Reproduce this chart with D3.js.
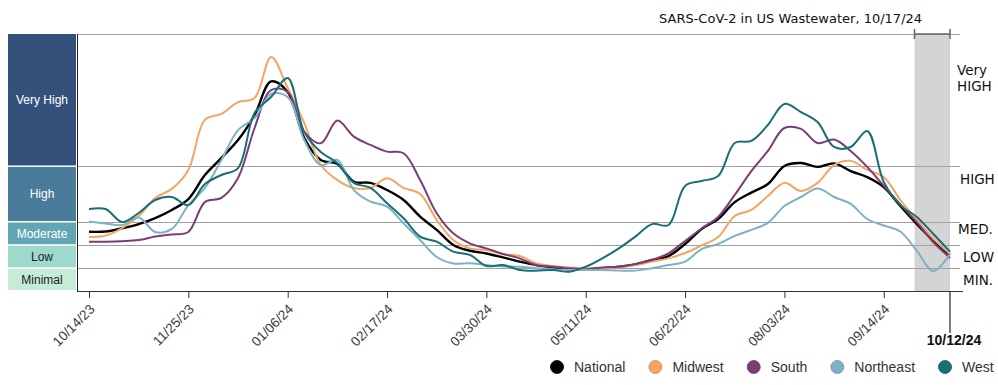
<!DOCTYPE html>
<html>
<head>
<meta charset="utf-8">
<script src="https://cdn.jsdelivr.net/npm/d3@7"></script>
<style>
  body { margin: 0; background: #fff; }
  svg { display: block; }
</style>
</head>
<body>
<svg width="998" height="385"></svg>
<script>
// Weekly samples, Saturdays 10/14/23 .. 10/12/24
const weeks = d3.timeSaturday.range(new Date(2023, 9, 14), new Date(2024, 9, 13));

// Series values (viral activity units)
const national  = [2.56,2.57,2.71,2.89,3.15,3.50,3.97,5.01,5.75,6.52,7.60,9.05,8.60,6.61,5.66,5.49,4.72,4.67,4.36,3.93,3.21,2.64,1.99,1.74,1.62,1.45,1.27,1.12,1.02,0.94,0.94,0.98,1.05,1.15,1.34,1.51,2.03,2.68,3.11,3.84,4.25,4.62,5.40,5.53,5.36,5.51,5.18,4.92,4.49,3.67,2.89,2.18,1.56];
const midwest   = [2.33,2.40,2.72,3.24,4.02,4.41,5.23,7.39,7.65,8.16,8.34,10.11,8.77,7.26,5.44,4.79,4.45,4.45,4.87,4.45,4.19,3.07,2.20,1.84,1.77,1.60,1.51,1.20,1.08,1.02,0.98,0.98,1.02,1.12,1.27,1.41,1.64,1.97,2.33,3.24,3.50,4.10,4.67,4.32,4.67,5.44,5.62,5.23,4.92,3.93,3.07,2.25,1.60];
const south     = [2.13,2.13,2.15,2.20,2.35,2.44,2.55,3.84,4.02,4.88,7.04,8.68,8.60,6.87,6.38,7.36,6.67,6.31,6.02,5.95,4.79,3.36,2.49,2.06,1.84,1.60,1.41,1.12,1.05,0.98,0.94,1.02,1.05,1.17,1.34,1.63,2.16,2.70,3.20,4.15,5.18,6.05,7.04,7.00,6.39,6.54,6.05,5.36,4.54,3.74,2.96,2.10,1.43];
const northeast = [3.00,2.92,2.85,3.17,2.55,2.68,3.71,4.45,5.66,6.95,7.47,8.51,8.38,6.52,5.44,5.66,4.36,3.86,3.64,2.92,2.20,1.47,1.19,1.20,1.12,1.06,1.05,0.98,0.94,0.91,0.91,0.91,0.88,0.88,0.98,1.12,1.27,1.81,2.03,2.38,2.64,2.94,3.67,4.06,4.43,4.06,3.76,3.11,2.83,2.57,1.73,0.86,1.60];
const west      = [3.54,3.54,2.98,3.37,3.93,4.06,3.71,4.62,5.01,5.31,7.69,8.38,9.20,6.87,6.00,5.52,4.67,4.45,3.79,3.14,2.35,2.13,1.70,1.56,1.08,1.12,0.91,0.88,0.91,0.83,1.05,1.41,1.84,2.35,2.89,2.85,4.54,4.75,4.97,6.39,6.48,7.17,8.08,7.73,7.30,6.22,6.22,6.91,4.71,3.71,3.20,2.46,1.70];

const seriesNames  = ["National", "Midwest", "South", "Northeast", "West"];
const seriesValues = [national, midwest, south, northeast, west];
const seriesColors = ["#000000", "#f6a461", "#7c3d72", "#7fb1c6", "#186f74"];

// Activity levels (upper bound of each band)
const levelNames  = ["Minimal", "Low", "Moderate", "High", "Very High"];
const levelTops   = [1, 2, 3, 5.4, 11.1];
const levelColors = ["#c6ecd8", "#9fd8cc", "#62a6b4", "#4b7b9a", "#33517b"];
const levelText   = ["#222", "#222", "#fff", "#fff", "#fff"];
const rightLabels = [["MIN."], ["LOW"], ["MED."], ["HIGH"], ["Very", "HIGH"]];

// Tick labels
const tickDates = ["10/14/23","11/25/23","01/06/24","02/17/24","03/30/24","05/11/24","06/22/24","08/03/24","09/14/24"];
const lastDate = "10/12/24";
const bandDates = ["09/27/24", "10/12/24"]; // incomplete-data window
const title = "SARS-CoV-2 in US Wastewater, 10/17/24";

const parse = d3.timeParse("%m/%d/%y");

const svg = d3.select("svg");
const plotLeft = 77, plotRight = 960, plotTop = 34, plotBottom = 291;

const x = d3.scaleTime()
    .domain([weeks[0], weeks[weeks.length - 1]])
    .range([89, 950]);
const y = d3.scaleLinear()
    .domain([0, 11.1])
    .range([plotBottom, plotTop]);

// Gray band for incomplete weeks
const bx0 = x(parse(bandDates[0])), bx1 = x(parse(bandDates[1]));
svg.append("rect")
    .attr("x", bx0)
    .attr("y", plotTop)
    .attr("width", bx1 - bx0)
    .attr("height", plotBottom - plotTop)
    .attr("fill", "#d4d4d4");

// Gridlines at level bounds
svg.append("g")
    .selectAll("line")
    .data(levelTops)
    .join("line")
        .attr("x1", plotLeft)
        .attr("x2", plotRight)
        .attr("y1", d => Math.round(y(d)) + 0.5)
        .attr("y2", d => Math.round(y(d)) + 0.5)
        .attr("stroke", "#a0a0a0")
        .attr("stroke-width", 1);

// Bracket above the band
svg.append("path")
    .attr("d", `M${bx0},29V39M${bx0},34H${bx1}M${bx1},29V39`)
    .attr("fill", "none")
    .attr("stroke", "#666")
    .attr("stroke-width", 1.5);

// Left level blocks
const blocks = svg.append("g");
levelTops.forEach((t, i) => {
    const lo = i === 0 ? 0 : levelTops[i - 1];
    const y0 = y(t) + (i === levelTops.length - 1 ? 0 : 1);
    const y1 = y(lo) - (i === 0 ? 1 : 0.5);
    blocks.append("rect")
        .attr("x", 8)
        .attr("y", y0)
        .attr("width", 68)
        .attr("height", y1 - y0)
        .attr("fill", levelColors[i]);
    blocks.append("text")
        .attr("x", 42)
        .attr("y", (y0 + y1) / 2)
        .attr("dy", "0.36em")
        .attr("text-anchor", "middle")
        .style("font-family", "Liberation Sans, Arial, sans-serif")
        .style("font-size", "12px")
        .attr("fill", levelText[i])
        .text(levelNames[i]);
});

// Right level labels
const rightPos = [[963, 285], [963, 262], [958, 234], [960, 184], [957, 75]];
rightLabels.forEach((lines, i) => {
    lines.forEach((s, j) => {
        svg.append("text")
            .attr("x", rightPos[i][0])
            .attr("y", rightPos[i][1] + j * 16)
            .style("font-family", "DejaVu Sans, sans-serif")
            .style("font-size", "13.5px")
            .attr("fill", "#111")
            .text(s);
    });
});

// Axes
svg.append("line")
    .attr("x1", plotLeft + 0.5).attr("x2", plotLeft + 0.5)
    .attr("y1", plotTop).attr("y2", plotBottom)
    .attr("stroke", "#222");
svg.append("line")
    .attr("x1", plotLeft).attr("x2", 963)
    .attr("y1", plotBottom + 0.5).attr("y2", plotBottom + 0.5)
    .attr("stroke", "#333");

const xAxis = svg.append("g")
    .attr("transform", `translate(0,${plotBottom})`)
    .call(d3.axisBottom(x)
        .tickValues(tickDates.map(parse))
        .tickFormat(d3.timeFormat("%m/%d/%y"))
        .tickSize(7)
        .tickSizeOuter(0));
xAxis.select(".domain").remove();
xAxis.selectAll(".tick line").attr("stroke", "#333");
xAxis.selectAll(".tick text")
    .attr("y", 0)
    .attr("dy", 0)
    .attr("transform", "translate(6,19) rotate(-45)")
    .style("text-anchor", "end")
    .style("font-family", "Liberation Sans, Arial, sans-serif")
    .style("font-size", "13.5px")
    .attr("fill", "#3a3a3a");

// Last week marker
const xl = x(parse(lastDate));
svg.append("line")
    .attr("x1", xl).attr("x2", xl)
    .attr("y1", plotBottom).attr("y2", 333)
    .attr("stroke", "#222")
    .attr("stroke-width", 1.2);
svg.append("text")
    .attr("x", xl + 4)
    .attr("y", 345)
    .attr("text-anchor", "middle")
    .style("font-family", "Liberation Sans, Arial, sans-serif")
    .style("font-size", "14px")
    .style("font-weight", "bold")
    .attr("fill", "#111")
    .text(lastDate);

// Lines
const line = d3.line()
    .x((d, i) => x(weeks[i]))
    .y(d => y(d))
    .curve(d3.curveCatmullRom.alpha(0.5));

svg.append("g")
    .selectAll("path")
    .data(seriesValues)
    .join("path")
        .attr("d", line)
        .attr("fill", "none")
        .attr("stroke", (d, i) => seriesColors[i])
        .attr("stroke-width", (d, i) => i === 0 ? 2.4 : 2)
        .attr("stroke-linejoin", "round");

// Title
svg.append("text")
    .attr("x", 659)
    .attr("y", 23)
    .style("font-family", "DejaVu Sans, sans-serif")
    .style("font-size", "13px")
    .attr("fill", "#111")
    .text(title);

// Legend
const legend = svg.append("g").attr("transform", "translate(557,367)");
let lx = 0;
seriesNames.forEach((name, i) => {
    legend.append("circle")
        .attr("cx", lx)
        .attr("cy", 0)
        .attr("r", 6.5)
        .attr("fill", seriesColors[i])
        .attr("stroke", d3.color(seriesColors[i]).darker(0.5))
        .attr("stroke-width", 0.8);
    const t = legend.append("text")
        .attr("x", lx + 17)
        .attr("y", 0)
        .attr("dy", "0.36em")
        .style("font-family", "Liberation Sans, Arial, sans-serif")
        .style("font-size", "14px")
        .attr("fill", "#333")
        .text(name);
    lx += 17 + t.node().getComputedTextLength() + 30;
});
</script>
</body>
</html>
